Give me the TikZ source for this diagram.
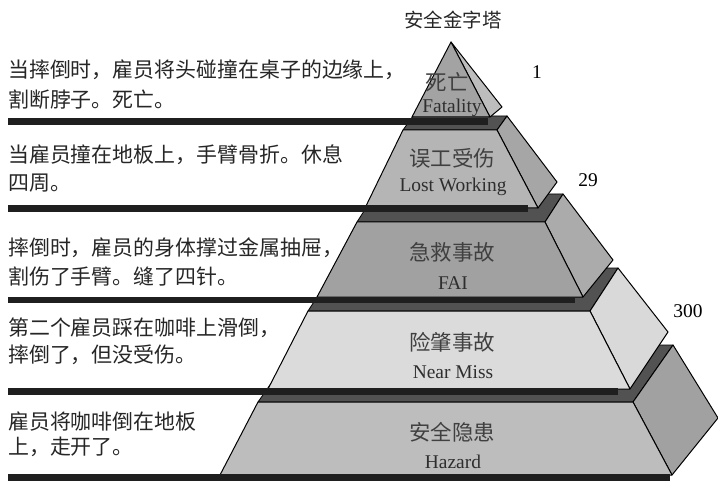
\documentclass[tikz,border=0pt]{standalone}
\usepackage{fontspec}
\setmainfont{Liberation Serif}
\newfontfamily\cjk{Noto Sans CJK SC}
\begin{document}
\begin{tikzpicture}[x=1bp,y=-1bp,
  barfill/.style={fill=black!88},
  ledge/.style={fill=black!68, draw=black, line width=0.8bp, line join=round},
  face/.style={draw=black, line width=1bp, line join=round},
  cn/.style={font=\cjk\fontsize{21.5}{21.5}\selectfont, text=black!75, inner sep=0},
  en/.style={font=\fontsize{19.5}{19.5}\selectfont, text=black!82, inner sep=0},
  lt/.style={font=\cjk\fontsize{21}{21}\selectfont, anchor=west, inner sep=0, text=black!85},
  num/.style={font=\fontsize{19.5}{19.5}\selectfont, inner sep=0},
]
\useasboundingbox (0,0) rectangle (718,481);
% layer 5
\path[ledge] (258,402) -- (633,402) -- (673,345) -- (298,345) -- cycle;
\path[face, fill=black!37] (633,402) -- (673,345) -- (718,418) -- (672,475) -- cycle;
\path[face, fill=black!26] (258,402) -- (633,402) -- (672,475) -- (220,475) -- cycle;
% layer 4
\path[ledge] (308,311) -- (590,311) -- (618,268) -- (336,268) -- cycle;
\path[face, fill=black!15] (590,311) -- (618,268) -- (668,332) -- (630,389) -- cycle;
\path[face, fill=black!14] (308,311) -- (590,311) -- (630,389) -- (268,389) -- cycle;
% layer 3
\path[ledge] (357,222) -- (545,222) -- (563,194) -- (375,194) -- cycle;
\path[face, fill=black!33] (545,222) -- (563,194) -- (613,260) -- (583,297) -- cycle;
\path[face, fill=black!37] (357,222) -- (545,222) -- (583,297) -- (317,297) -- cycle;
% layer 2
\path[ledge] (403,130) -- (497,130) -- (507,116) -- (413,116) -- cycle;
\path[face, fill=black!35] (497,130) -- (507,116) -- (557,182) -- (538,208) -- cycle;
\path[face, fill=black!29] (403,130) -- (497,130) -- (538,208) -- (365,208) -- cycle;
% layer 1
\path[face, fill=black!26] (451,42) -- (502,107) -- (490,117) -- cycle;
\path[face, fill=black!36] (451,42) -- (490,117) -- (412,117) -- cycle;
% bars
\fill[barfill] (8,118) rectangle (488,125);
\fill[barfill] (8,205) rectangle (528,212);
\fill[barfill] (8,296.5) rectangle (575,303);
\fill[barfill] (8,388) rectangle (618,395);
\fill[barfill] (8,474) rectangle (670,481);
% title
\node[cn, text=black!85, font=\cjk\fontsize{19.5}{19.5}\selectfont] (title) at (453,20) {安全金字塔};
% labels in layers
\node[cn] (c1) at (447,82) {死亡};
\node[en] (e1) at (452,108) {Fatality};
\node[cn] (c2) at (452,158) {误工受伤};
\node[en] (e2) at (453,187) {Lost Working};
\node[cn] (c3) at (452,252) {急救事故};
\node[en] (e3) at (453,283) {FAI};
\node[cn] (c4) at (452,342) {险肇事故};
\node[en] (e4) at (453,372) {Near Miss};
\node[cn] (c5) at (452,432) {安全隐患};
\node[en] (e5) at (453,462) {Hazard};
% numbers
\node[num] (n1) at (537,72) {1};
\node[num] (n2) at (588,180) {29};
\node[num] (n3) at (688,311) {300};
% left texts
\node[lt] (t1a) at (8,70) {当摔倒时，雇员将头碰撞在桌子的边缘上，};
\node[lt] (t1b) at (8,100) {割断脖子。死亡。};
\node[lt] (t2a) at (8,155) {当雇员撞在地板上，手臂骨折。休息};
\node[lt] (t2b) at (8,183) {四周。};
\node[lt] (t3a) at (8,248) {摔倒时，雇员的身体撑过金属抽屉，};
\node[lt] (t3b) at (8,277) {割伤了手臂。缝了四针。};
\node[lt] (t4a) at (8,328) {第二个雇员踩在咖啡上滑倒，};
\node[lt] (t4b) at (8,355) {摔倒了，但没受伤。};
\node[lt] (t5a) at (8,422) {雇员将咖啡倒在地板};
\node[lt] (t5b) at (8,447) {上，走开了。};
\end{tikzpicture}
\end{document}
